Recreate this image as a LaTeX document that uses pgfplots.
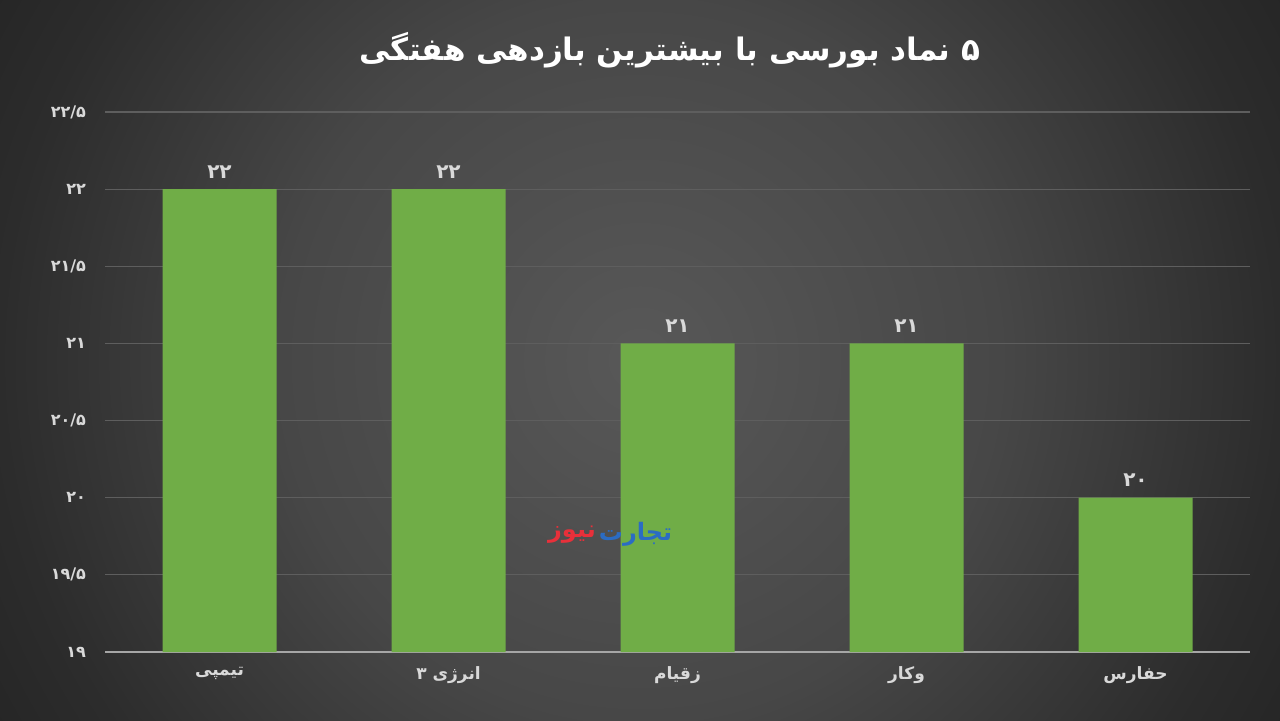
\documentclass[border=0pt]{standalone}
\usepackage{pgfplots}
\pgfplotsset{compat=1.18}
\usepackage{fontspec}
\setmainfont{DejaVu Sans}
\newfontfamily\fa[Script=Arabic]{DejaVu Sans}
\TeXXeTstate=1
\definecolor{barc}{HTML}{70AD47}
\definecolor{bga}{HTML}{585858}
\definecolor{bgb}{HTML}{474747}
\definecolor{bgc}{HTML}{2C2C2C}
\definecolor{bgd}{HTML}{262626}
\definecolor{gridc}{HTML}{5E5E5E}
\definecolor{txt}{HTML}{D9D9D9}
\definecolor{wmblue}{HTML}{2B6CC4}
\definecolor{wmred}{HTML}{E8303A}
\pgfdeclareradialshading{bgshade}{\pgfpoint{0bp}{0bp}}{color(0bp)=(bga); color(179bp)=(bgb); color(319bp)=(bgc); color(369bp)=(bgd)}
\begin{document}
\begin{tikzpicture}[x=0.5pt,y=0.5pt]
\begin{scope}
\clip (0,0) rectangle (1280,720);
\node[inner sep=0pt, outer sep=0pt] at (640,360) {\pgfuseshading{bgshade}};
\end{scope}
\useasboundingbox (0,0) rectangle (1280,720);
\node[font=\fa\bfseries\fontsize{15.5}{20}\selectfont, text=white] at (670,670) {\beginR ۵ نماد بورسی با بیشترین بازدهی هفتگی\endR};
\begin{axis}[
  at={(52.5pt,34pt)}, anchor=south west,
  scale only axis, width=572.5pt, height=270pt,
  xmin=-0.5, xmax=4.5, ymin=19, ymax=22.5,
  axis lines*=left,
  y axis line style={draw=none},
  x axis line style={draw=white!65!black, line width=0.8pt},
  major tick length=0pt,
  ymajorgrids, grid style={draw=gridc, line width=0.6pt},
  ytick={19,19.5,20,20.5,21,21.5,22,22.5},
  yticklabels={۱۹,۱۹/۵,۲۰,۲۰/۵,۲۱,۲۱/۵,۲۲,۲۲/۵},
  xtick={0,1,2,3,4},
  xticklabels={\beginR تیمپی\endR,\beginR انرژی ۳\endR,\beginR زقیام\endR,\beginR وکار\endR,\beginR حفارس\endR},
  yticklabel style={font=\fa\bfseries\fontsize{8}{10}\selectfont, text=txt, xshift=-6pt},
  xticklabel style={font=\fa\bfseries\fontsize{8.5}{10}\selectfont, text=txt, yshift=-4pt},
  ybar, bar width=57pt,
  point meta=explicit symbolic,
  nodes near coords,
  every node near coord/.append style={font=\fa\bfseries\fontsize{10}{11}\selectfont, text=txt, yshift=2pt},
  clip=false,
]
\addplot[fill=barc, draw=none] coordinates {(0,22) [۲۲] (1,22) [۲۲] (2,21) [۲۱] (3,21) [۲۱] (4,20) [۲۰]};
\node[font=\fa\bfseries\fontsize{12}{14}\selectfont, text=wmblue, anchor=west, inner sep=0pt] at (axis cs:1.655,19.76) {\beginR تجارت\endR};
\node[font=\fa\bfseries\fontsize{12}{14}\selectfont, text=wmred, anchor=east, inner sep=0pt] at (axis cs:1.645,19.76) {\beginR نیوز\endR};
\end{axis}
\end{tikzpicture}
\end{document}
